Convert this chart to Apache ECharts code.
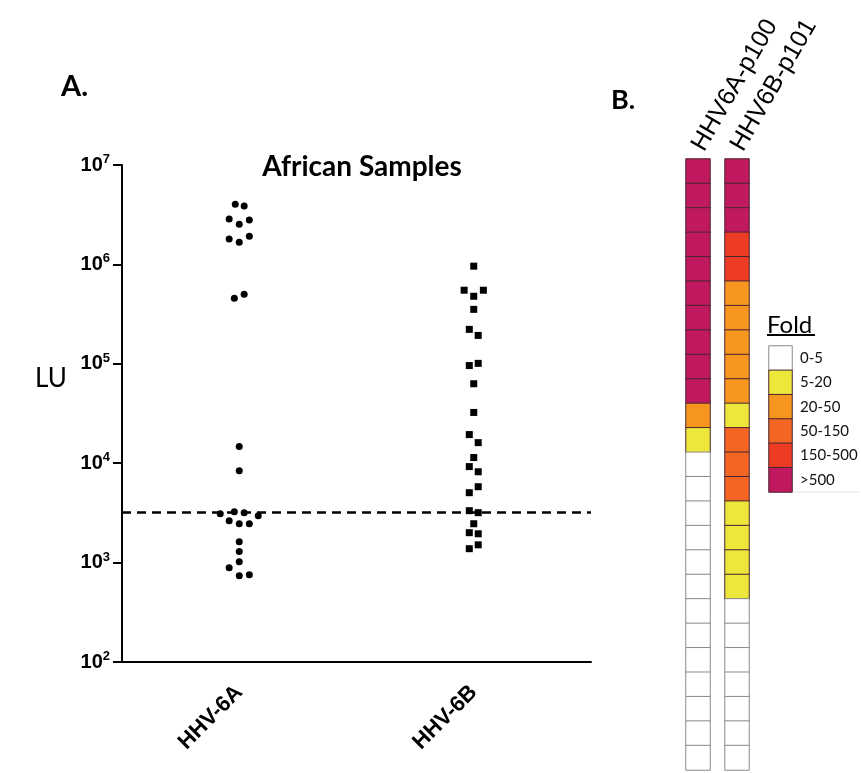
<!DOCTYPE html>
<html>
<head>
<meta charset="utf-8">
<script src="https://cdn.jsdelivr.net/npm/echarts@6/dist/echarts.min.js"></script>
<style>html,body{margin:0;padding:0;background:#fff}#c{width:861px;height:773px}</style>
</head>
<body>
<div id="c"></div>
<script>
// ---- data ----
const categories = ['HHV-6A', 'HHV-6B'];
const yTicks = [100, 1000, 10000, 100000, 1000000, 10000000];
const cutoffLU = 3200;
// HHV-6A: LU values and horizontal jitter (in category units)
const hhv6aLU = [4.04e6, 3.86e6, 2.86e6, 2.54e6, 2.79e6, 1.80e6, 1.67e6, 1.92e6, 4.56e5, 5.01e5,
  1.47e4, 8.4e3, 3.10e3, 3.25e3, 3.18e3, 2.96e3, 2.64e3, 2.46e3, 2.46e3, 1.62e3, 1.29e3, 1.02e3, 887, 736, 753];
const hhv6aJitter = [-0.017, 0.021, -0.043, 0, 0.043, -0.043, 0, 0.043, -0.021, 0.021,
  0, 0, -0.081, -0.021, 0.021, 0.081, -0.043, 0, 0.043, 0, 0, 0, -0.043, 0, 0.043];
// HHV-6B
const hhv6bLU = [9.6e5, 5.5e5, 4.78e5, 5.5e5, 3.53e5, 2.22e5, 1.93e5, 9.6e4, 1.01e5, 6.3e4,
  3.24e4, 1.94e4, 1.61e4, 1.14e4, 9.24e3, 8.2e3, 5.05e3, 5.8e3, 3.33e3, 3.18e3, 2.46e3, 2.0e3, 1.95e3, 1.38e3, 1.51e3];
const hhv6bJitter = [0, -0.041, 0, 0.041, 0, -0.019, 0.019, -0.019, 0.019, 0,
  0, -0.019, 0.019, 0, -0.019, 0.019, -0.019, 0.019, -0.019, 0.019, 0, -0.019, 0.019, -0.019, 0.019];
// Panel B: fold bins per sample (index into foldBins)
const foldBins = ['0-5', '5-20', '20-50', '50-150', '150-500', '>500'];
const heatColumns = ['HHV6A-p100', 'HHV6B-p101'];
const p100Fold = [5,5,5,5,5,5,5,5,5,5,2,1,0,0,0,0,0,0,0,0,0,0,0,0,0];
const p101Fold = [5,5,5,4,4,2,2,2,2,2,1,3,3,3,1,1,1,1,0,0,0,0,0,0,0];
// palette
const foldColors = ['#ffffff', '#ede73c', '#f7961f', '#f26522', '#ee3b24', '#c1195f'];

const rows = p100Fold.map((_, i) => String(i + 1));
function heatData(arr, xIdx) {
  return arr.map((b, i) => ({
    value: [xIdx, i, b],
    itemStyle: { color: foldColors[b], borderColor: b === 0 ? '#8a8a8a' : '#4a2632' }
  }));
}
const chart = echarts.init(document.getElementById('c'), null, { renderer: 'canvas' });
const AR = 'Liberation Sans';
const CAL = 'Lato';

const option = {
  backgroundColor: '#fff',
  animation: false,
  grid: [
    { left: 122, top: 165, width: 469, height: 497 },
    { left: 686, top: 159, width: 24, height: 611 },
    { left: 725, top: 159, width: 24, height: 611 },
    { left: 769, top: 346, width: 23, height: 146 }
  ],
  xAxis: [
    { type: 'category', gridIndex: 0, data: categories, boundaryGap: true,
      axisLine: { lineStyle: { color: '#000', width: 2 } },
      axisTick: { alignWithLabel: true, length: 9, lineStyle: { color: '#000', width: 2 } },
      axisLabel: { rotate: 45, margin: 27, color: '#000', fontFamily: AR, fontWeight: 'bold', fontSize: 22 },
      splitLine: { show: false } },
    { type: 'value', gridIndex: 0, min: 0.5, max: 2.5, show: false },
    { type: 'category', gridIndex: 1, data: [heatColumns[0]], position: 'top',
      axisLine: { show: false }, axisTick: { show: false },
      axisLabel: { rotate: -60, margin: 10, color: '#000', fontFamily: AR, fontSize: 25 } },
    { type: 'category', gridIndex: 2, data: [heatColumns[1]], position: 'top',
      axisLine: { show: false }, axisTick: { show: false },
      axisLabel: { rotate: -60, margin: 10, color: '#000', fontFamily: AR, fontSize: 25 } },
    { type: 'category', gridIndex: 3, data: ['Fold'], show: false }
  ],
  yAxis: [
    { type: 'log', gridIndex: 0, logBase: 10, min: yTicks[0], max: yTicks[yTicks.length - 1],
      axisLine: { show: true, lineStyle: { color: '#000', width: 2 } },
      axisTick: { show: true, length: 9, lineStyle: { color: '#000', width: 2 } },
      splitLine: { show: false },
      axisLabel: { margin: 12,
        formatter: v => '{b|10}{s|' + Math.round(Math.log10(v)) + '}',
        rich: {
          b: { fontFamily: AR, fontWeight: 'bold', fontSize: 20, color: '#000', lineHeight: 24 },
          s: { fontFamily: AR, fontWeight: 'bold', fontSize: 13, color: '#000', verticalAlign: 'top', lineHeight: 14 }
        } } },
    { type: 'category', gridIndex: 1, data: rows, inverse: true, show: false },
    { type: 'category', gridIndex: 2, data: rows, inverse: true, show: false },
    { type: 'category', gridIndex: 3, data: foldBins, inverse: true, position: 'right',
      axisLine: { show: false }, axisTick: { show: false },
      axisLabel: { margin: 8, color: '#111', fontFamily: CAL, fontSize: 15 } }
  ],
  series: [
    { type: 'scatter', name: 'HHV-6A', xAxisIndex: 1, yAxisIndex: 0, symbol: 'circle', symbolSize: 7,
      itemStyle: { color: '#000', opacity: 1 },
      data: hhv6aLU.map((v, i) => [1 + hhv6aJitter[i], v]),
      markLine: { silent: true, symbol: 'none', label: { show: false },
        lineStyle: { color: '#000', width: 2.5, type: [9, 6], opacity: 1 },
        data: [{ yAxis: cutoffLU }] },
      z: 3 },
    { type: 'scatter', name: 'HHV-6B', xAxisIndex: 1, yAxisIndex: 0, symbol: 'rect', symbolSize: 7,
      itemStyle: { color: '#000', opacity: 1 },
      data: hhv6bLU.map((v, i) => [2 + hhv6bJitter[i], v]), z: 3 },
    { type: 'heatmap', xAxisIndex: 2, yAxisIndex: 1, itemStyle: { borderWidth: 1 },
      data: heatData(p100Fold, 0) },
    { type: 'heatmap', xAxisIndex: 3, yAxisIndex: 2, itemStyle: { borderWidth: 1 },
      data: heatData(p101Fold, 0) },
    { type: 'heatmap', xAxisIndex: 4, yAxisIndex: 3, itemStyle: { borderWidth: 1 },
      data: foldBins.map((b, i) => ({ value: [0, i, i],
        itemStyle: { color: foldColors[i], borderColor: i === 0 ? '#8a8a8a' : '#4a2632' } })) }
  ],
  graphic: [
    { type: 'text', left: 61, top: 72, style: { text: 'A.', font: 'bold 29px Lato', fill: '#000' } },
    { type: 'text', left: 611, top: 87, style: { text: 'B.', font: 'bold 27px Lato', fill: '#000' } },
    { type: 'text', x: 362, y: 167, style: { text: 'African Samples', font: 'bold 28px Lato', fill: '#000', align: 'center', verticalAlign: 'middle' } },
    { type: 'text', x: 51, y: 379, style: { text: 'LU', font: '26px Lato', fill: '#000', align: 'center', verticalAlign: 'middle' } },
    { type: 'text', x: 767, y: 325, style: { text: 'Fold', font: '24px Lato', fill: '#000', align: 'left', verticalAlign: 'middle' } },
    { type: 'line', shape: { x1: 767, y1: 335, x2: 815, y2: 335 }, style: { stroke: '#000', lineWidth: 2 } },
    { type: 'line', shape: { x1: 793, y1: 492, x2: 860, y2: 492 }, style: { stroke: '#e4e4e4', lineWidth: 1 } }
  ]
};
chart.setOption(option);
</script>
</body>
</html>
